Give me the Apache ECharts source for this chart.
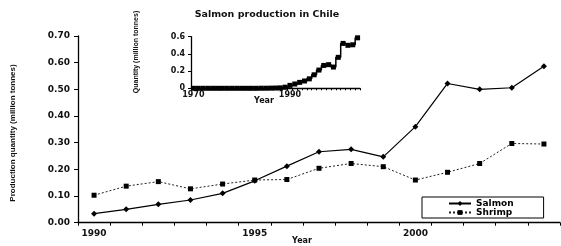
<!DOCTYPE html>
<html>
<head>
<meta charset="utf-8">
<script src="https://cdn.jsdelivr.net/npm/echarts@6/dist/echarts.min.js"></script>
<style>
html,body{margin:0;padding:0;background:#fff;}
#c{width:561px;height:246px;}
</style>
</head>
<body>
<div id="c"></div>
<script>
var years = ['1990','1991','1992','1993','1994','1995','1996','1997','1998','1999','2000','2001','2002','2003','2004'];
var salmon = [0.034,0.050,0.069,0.085,0.110,0.157,0.212,0.266,0.275,0.247,0.360,0.522,0.500,0.506,0.587];
var shrimp = [0.103,0.137,0.154,0.127,0.145,0.160,0.162,0.204,0.222,0.210,0.160,0.189,0.222,0.297,0.295];

var insetYears = ['1970','1971','1972','1973','1974','1975','1976','1977','1978','1979','1980','1981','1982','1983','1984','1985','1986','1987','1988','1989','1990','1991','1992','1993','1994','1995','1996','1997','1998','1999','2000','2001','2002','2003','2004'];
var insetSalmon = [0,0,0,0,0,0,0,0,0,0,0,0,0,0,0.001,0.001,0.002,0.003,0.005,0.013,0.034,0.050,0.069,0.085,0.110,0.157,0.212,0.266,0.275,0.247,0.360,0.522,0.500,0.506,0.587];

var FONT = 'DejaVu Sans';
function ts(size){ return {fontFamily: FONT, fontWeight: 'bold', fontSize: size, color: '#111'}; }
var chart = echarts.init(document.getElementById('c'), null, {renderer: 'canvas'});
chart.setOption({
  animation: false,
  backgroundColor: '#fff',
  grid: [
    {left: 78, right: 1, top: 36, bottom: 23.3},
    {left: 191, right: 201, top: 36.7, height: 51.6}
  ],
  legend: {
    orient: 'vertical', left: 422, top: 197,
    data: ['Salmon','Shrimp'],
    itemWidth: 22, itemHeight: 6, itemGap: 0,
    borderColor: '#000', borderWidth: 1, borderRadius: 0,
    padding: [2, 30, 1, 26],
    textStyle: {fontFamily: FONT, fontWeight: 'bold', fontSize: 9, color: '#000', lineHeight: 8}
  },
  xAxis: [
    {
      type: 'category', gridIndex: 0, data: years, boundaryGap: true,
      axisLine: {lineStyle: {color: '#000', width: 1.3}},
      axisTick: {show: true, interval: 0, length: 3, lineStyle: {color: '#000'}},
      axisLabel: Object.assign({margin: 6, interval: function(i){return i % 5 === 0;}}, ts(9)),
      splitLine: {show: false}
    },
    {
      type: 'category', gridIndex: 1, data: insetYears, boundaryGap: true,
      axisLine: {lineStyle: {color: '#000', width: 1.3}},
      axisTick: {show: true, interval: 0, length: 2, lineStyle: {color: '#000'}},
      axisLabel: Object.assign({margin: 3, interval: function(i){return i === 0 || i === 20;}}, ts(8)),
      splitLine: {show: false}
    }
  ],
  yAxis: [
    {
      type: 'value', gridIndex: 0, min: 0, max: 0.7, interval: 0.1,
      axisLine: {show: true, lineStyle: {color: '#000', width: 1.3}},
      axisTick: {show: true, length: 4, lineStyle: {color: '#000'}},
      axisLabel: Object.assign({margin: 8, formatter: function(v){return v.toFixed(2);}}, ts(9)),
      splitLine: {show: false}
    },
    {
      type: 'value', gridIndex: 1, min: 0, max: 0.6, interval: 0.2,
      axisLine: {show: true, lineStyle: {color: '#000', width: 1.3}},
      axisTick: {show: true, length: 3, lineStyle: {color: '#000'}},
      axisLabel: Object.assign({margin: 6, formatter: function(v){return v === 0 ? '0' : v.toFixed(1);}}, ts(8)),
      splitLine: {show: false}
    }
  ],
  graphic: [
    {type: 'text', x: 302, y: 241, style: {text: 'Year', align: 'center', verticalAlign: 'middle', font: 'bold 8px "DejaVu Sans"', fill: '#111'}},
    {type: 'text', x: 267, y: 15, style: {text: 'Salmon production in Chile', align: 'center', verticalAlign: 'middle', font: 'bold 9.5px "DejaVu Sans"', fill: '#111'}},
    {type: 'text', x: 264, y: 101, style: {text: 'Year', align: 'center', verticalAlign: 'middle', font: 'bold 8px "DejaVu Sans"', fill: '#111'}},
    {type: 'text', x: 13, y: 133, rotation: Math.PI / 2, style: {text: 'Production quantity (million tonnes)', align: 'center', verticalAlign: 'middle', font: 'bold 8px "Liberation Sans"', fill: '#111'}},
    {type: 'text', x: 136, y: 52, rotation: Math.PI / 2, style: {text: 'Quantity (million tonnes)', align: 'center', verticalAlign: 'middle', font: 'bold 7px "Liberation Sans"', fill: '#111'}}
  ],
  series: [
    {
      name: 'Salmon', type: 'line', xAxisIndex: 0, yAxisIndex: 0, data: salmon,
      symbol: 'diamond', symbolSize: 6, showSymbol: true,
      lineStyle: {color: '#000', width: 1.2},
      itemStyle: {color: '#000'}
    },
    {
      name: 'Shrimp', type: 'line', xAxisIndex: 0, yAxisIndex: 0, data: shrimp,
      symbol: 'rect', symbolSize: 5, showSymbol: true,
      lineStyle: {color: '#222', width: 1, type: [2, 2]},
      itemStyle: {color: '#000'}
    },
    {
      name: 'Chile', type: 'line', xAxisIndex: 1, yAxisIndex: 1, data: insetSalmon,
      step: 'middle', symbol: 'rect', symbolSize: 5, showSymbol: true, showAllSymbol: true,
      lineStyle: {color: '#000', width: 1.5},
      itemStyle: {color: '#000'}
    }
  ]
});
</script>
</body>
</html>
